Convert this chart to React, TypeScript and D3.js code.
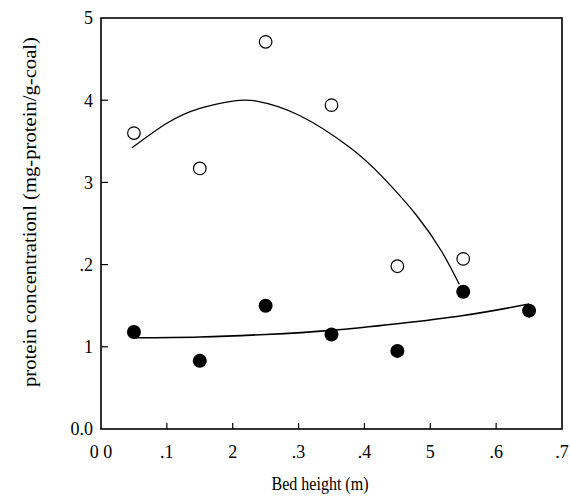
import React from "react";
import * as d3 from "d3";

const xOpen = [0.05, 0.15, 0.25, 0.35, 0.45, 0.55];
const yOpen = [3.6, 3.17, 4.71, 3.94, 1.98, 2.07];
const xFilled = [0.05, 0.15, 0.25, 0.35, 0.45, 0.55, 0.65];
const yFilled = [1.18, 0.83, 1.5, 1.15, 0.95, 1.67, 1.44];

const fitOpenX = [0.047, 0.1, 0.15, 0.2, 0.236, 0.3, 0.377, 0.427, 0.479, 0.518, 0.544];
const fitOpenY = [3.42, 3.72, 3.9, 3.99, 3.99, 3.82, 3.43, 3.07, 2.6, 2.15, 1.76];
const fitFilledX = [0.05, 0.15, 0.25, 0.35, 0.45, 0.55, 0.65];
const fitFilledY = [1.11, 1.12, 1.15, 1.2, 1.28, 1.38, 1.52];

const xTickValues = [0, 0.1, 0.2, 0.3, 0.4, 0.5, 0.6, 0.7];
const xTickLabels = ["0 0", ".1", "2", ".3", ".4", "5", ".6", ".7"];
const yTickValues = [0, 1, 2, 3, 4, 5];
const yTickLabels = ["0.0", "1", ".2", "3", "4", "5"];

const xTitle = "Bed height (m)";
const yTitle = "protein concentrationl (mg-protein/g-coal)";

export default function App() {
  const left = 101, right = 562, top = 18, bottom = 429;
  const x = d3.scaleLinear().domain([0, 0.7]).range([left, right]);
  const y = d3.scaleLinear().domain([0, 5]).range([bottom, top]);
  const line = d3
    .line<[number, number]>()
    .x((d) => x(d[0]))
    .y((d) => y(d[1]))
    .curve(d3.curveNatural);
  const openFit = fitOpenX.map((v, i) => [v, fitOpenY[i]] as [number, number]);
  const filledFit = fitFilledX.map((v, i) => [v, fitFilledY[i]] as [number, number]);
  const font = "'Liberation Serif', 'DejaVu Serif', serif";

  return (
    <svg
      width={570}
      height={497}
      style={{ position: "absolute", left: 0, top: 0, background: "#fff" }}
      fontFamily={font}
    >
      <rect x={0} y={0} width={570} height={497} fill="#fff" />
      <rect
        x={left}
        y={top}
        width={right - left}
        height={bottom - top}
        fill="none"
        stroke="#000"
        strokeWidth={1.6}
      />
      {yTickValues.map((v, i) => (
        <g key={"yt" + i}>
          {v > 0 && v < 5 && (
            <line x1={left} x2={left + 7} y1={y(v)} y2={y(v)} stroke="#000" strokeWidth={1.2} />
          )}
          <text x={93} y={y(v)} dy="0.35em" textAnchor="end" fontSize={18}>
            {yTickLabels[i]}
          </text>
        </g>
      ))}
      {xTickValues.map((v, i) => (
        <g key={"xt" + i}>
          {v > 0 && v < 0.7 && (
            <line x1={x(v)} x2={x(v)} y1={bottom} y2={bottom - 6} stroke="#000" strokeWidth={1.2} />
          )}
          <text x={x(v)} y={458} textAnchor="middle" fontSize={18}>
            {xTickLabels[i]}
          </text>
        </g>
      ))}
      <text
        x={320}
        y={490}
        textAnchor="middle"
        fontSize={18}
        textLength={97}
        lengthAdjust="spacingAndGlyphs"
      >
        {xTitle}
      </text>
      <text
        transform={`translate(36,212) rotate(-90)`}
        textAnchor="middle"
        fontSize={18}
        textLength={350}
        lengthAdjust="spacingAndGlyphs"
      >
        {yTitle}
      </text>
      <path d={line(openFit) || ""} fill="none" stroke="#000" strokeWidth={1.3} />
      <path d={line(filledFit) || ""} fill="none" stroke="#000" strokeWidth={1.6} />
      {xOpen.map((v, i) => (
        <circle key={"o" + i} cx={x(v)} cy={y(yOpen[i])} r={6.3} fill="#fff" stroke="#000" strokeWidth={1.2} />
      ))}
      {xFilled.map((v, i) => (
        <circle key={"f" + i} cx={x(v)} cy={y(yFilled[i])} r={7} fill="#000" />
      ))}
    </svg>
  );
}
